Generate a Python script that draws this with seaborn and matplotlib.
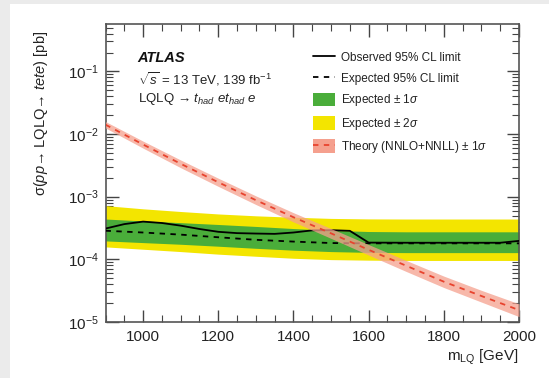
import numpy as np
import pandas as pd
import matplotlib
matplotlib.use("Agg")
import matplotlib.pyplot as plt
import matplotlib.ticker as mticker
from matplotlib.patches import Patch, Rectangle
from matplotlib.lines import Line2D
import seaborn as sns

sns.set_theme(style="ticks")
plt.rcParams["font.family"] = ["Liberation Sans", "DejaVu Sans"]
plt.rcParams["mathtext.fontset"] = "custom"
plt.rcParams["mathtext.rm"] = "Liberation Sans"
plt.rcParams["mathtext.it"] = "Liberation Sans:italic"
plt.rcParams["mathtext.bf"] = "Liberation Sans:bold"

# limits vs leptoquark mass [GeV], cross section in pb
mass_obs = [900, 950, 1000, 1050, 1100, 1150, 1200, 1250, 1300, 1350, 1400, 1450,
            1500, 1550, 1600, 1700, 1800, 1900, 1950, 2000]
observed = [3.1e-4, 3.65e-4, 4.0e-4, 3.8e-4, 3.45e-4, 3.05e-4, 2.75e-4, 2.62e-4, 2.58e-4,
            2.55e-4, 2.68e-4, 2.9e-4, 2.92e-4, 2.85e-4, 1.85e-4, 1.84e-4, 1.84e-4,
            1.84e-4, 1.84e-4, 1.97e-4]

mass_exp = [900, 1000, 1100, 1200, 1300, 1400, 1500, 1600, 1700, 1800, 1900, 2000]
expected = [2.86e-4, 2.68e-4, 2.48e-4, 2.25e-4, 2.05e-4, 1.92e-4, 1.82e-4, 1.8e-4,
            1.8e-4, 1.8e-4, 1.8e-4, 1.8e-4]
exp_1s_up = [4.4e-4, 4.1e-4, 3.85e-4, 3.6e-4, 3.35e-4, 3.1e-4, 2.9e-4, 2.78e-4,
             2.75e-4, 2.75e-4, 2.75e-4, 2.75e-4]
exp_1s_dn = [1.97e-4, 1.85e-4, 1.74e-4, 1.62e-4, 1.5e-4, 1.4e-4, 1.33e-4, 1.29e-4,
             1.28e-4, 1.28e-4, 1.28e-4, 1.28e-4]
exp_2s_up = [7.2e-4, 6.4e-4, 5.8e-4, 5.3e-4, 4.95e-4, 4.7e-4, 4.5e-4, 4.42e-4,
             4.4e-4, 4.4e-4, 4.4e-4, 4.4e-4]
exp_2s_dn = [1.58e-4, 1.45e-4, 1.33e-4, 1.21e-4, 1.12e-4, 1.04e-4, 9.9e-5, 9.7e-5,
             9.6e-5, 9.6e-5, 9.6e-5, 9.6e-5]

mass_th = [900, 1000, 1100, 1200, 1300, 1400, 1500, 1600, 1700, 1800, 1900, 2000]
theory = [1.41e-2, 6.8e-3, 3.35e-3, 1.7e-3, 8.8e-4, 4.7e-4, 2.6e-4, 1.42e-4,
          7.9e-5, 4.4e-5, 2.6e-5, 1.55e-5]
theory_up = [1.58e-2, 7.7e-3, 3.85e-3, 1.97e-3, 1.03e-3, 5.55e-4, 3.1e-4, 1.72e-4,
             9.6e-5, 5.4e-5, 3.2e-5, 1.95e-5]
theory_dn = [1.25e-2, 5.95e-3, 2.9e-3, 1.46e-3, 7.5e-4, 3.95e-4, 2.16e-4, 1.17e-4,
             6.4e-5, 3.55e-5, 2.08e-5, 1.22e-5]

GREEN = "#4aad3a"
YELLOW = "#f3e500"
TH_FILL = "#f5a08e"
TH_LINE = "#e8432e"

df_obs = pd.DataFrame({"m": mass_obs, "xs": observed})
df_exp = pd.DataFrame({"m": mass_exp, "xs": expected})
df_th = pd.DataFrame({"m": mass_th, "xs": theory})

fig = plt.figure(figsize=(5.49, 3.78), dpi=100)
fig.patch.set_facecolor("#ebebeb")
fig.patches.append(Rectangle((10 / 549, 0), 1, 1 - 4 / 378, transform=fig.transFigure,
                             facecolor="white", edgecolor="none", zorder=-10))
ax = fig.add_axes([105.5 / 549, 1 - 322 / 378, (519 - 105.5) / 549, (322 - 24) / 378])

ax.fill_between(mass_exp, exp_2s_dn, exp_2s_up, color=YELLOW, lw=0, zorder=1)
ax.fill_between(mass_exp, exp_1s_dn, exp_1s_up, color=GREEN, lw=0, zorder=2)
sns.lineplot(data=df_exp, x="m", y="xs", ax=ax, color="black", lw=1.3,
             linestyle=(0, (3, 3)), zorder=3)
sns.lineplot(data=df_obs, x="m", y="xs", ax=ax, color="black", lw=1.3, zorder=4)
ax.fill_between(mass_th, theory_dn, theory_up, color=TH_FILL, alpha=0.75, lw=0, zorder=5)
sns.lineplot(data=df_th, x="m", y="xs", ax=ax, color=TH_LINE, lw=1.3,
             linestyle=(0, (3, 3)), zorder=6)

ax.set_yscale("log")
ax.set_xlim(900, 2000)
ax.set_ylim(1e-5, 0.57)
ax.xaxis.set_major_locator(mticker.MultipleLocator(200))
ax.xaxis.set_minor_locator(mticker.MultipleLocator(50))
ax.yaxis.set_major_locator(mticker.LogLocator(base=10, numticks=10))
ax.yaxis.set_minor_locator(mticker.LogLocator(base=10, subs=np.arange(2, 10), numticks=20))
ax.yaxis.set_minor_formatter(mticker.NullFormatter())
ax.tick_params(which="both", direction="in", top=True, right=True, colors="#444444",
               labelcolor="#222222", labelsize=11)
ax.tick_params(which="major", length=9, width=1)
ax.tick_params(which="minor", length=5, width=0.8)
ax.tick_params(axis="x", pad=6)
ax.tick_params(axis="y", pad=5)
for sp in ax.spines.values():
    sp.set_color("#555555")
    sp.set_linewidth(1.2)

ax.set_xlabel(r"m$_{\mathrm{LQ}}$ [GeV]", fontsize=11, color="#222222")
ax.xaxis.set_label_coords(1.0, -0.085)
ax.xaxis.label.set_horizontalalignment("right")
ax.set_ylabel(r"σ($\mathit{pp}$→ LQLQ→ $\mathit{tete}$) [pb]",
              fontsize=10.5, color="#222222")
ax.yaxis.set_label_coords(-0.135, 0.70)

ax.text(0.078, 0.886, "ATLAS", transform=ax.transAxes, fontsize=10.5, fontweight="bold",
        fontstyle="italic", va="center", color="#111111")
ax.text(0.078, 0.815, r"$\sqrt{s}$ = 13 TeV, 139 fb$^{-1}$", transform=ax.transAxes,
        fontsize=9.5, va="center", color="#222222")
ax.text(0.078, 0.748, r"LQLQ → $t_{had}$ $et_{had}$ $e$",
        transform=ax.transAxes, fontsize=9.5, va="center", color="#222222")

handles = [
    Line2D([], [], color="black", lw=1.3),
    Line2D([], [], color="black", lw=1.3, linestyle=(0, (3, 3))),
    Patch(facecolor=GREEN, edgecolor="none"),
    Patch(facecolor=YELLOW, edgecolor="none"),
    (Patch(facecolor=TH_FILL, edgecolor="none"),
     Line2D([], [], color=TH_LINE, lw=1.3, linestyle=(0, (3, 3)))),
]
labels = ["Observed 95% CL limit", "Expected 95% CL limit", r"Expected $\pm$ 1$\sigma$",
          r"Expected $\pm$ 2$\sigma$", r"Theory (NNLO+NNLL) $\pm$ 1$\sigma$"]
ax.legend(handles, labels, loc="upper left", bbox_to_anchor=(0.49, 0.928), frameon=False,
          fontsize=8.5, handlelength=1.9, handleheight=1.4, handletextpad=0.45,
          labelspacing=0.62, borderaxespad=0, labelcolor="#222222")

fig.savefig("out.png", dpi=100, facecolor=fig.get_facecolor())
